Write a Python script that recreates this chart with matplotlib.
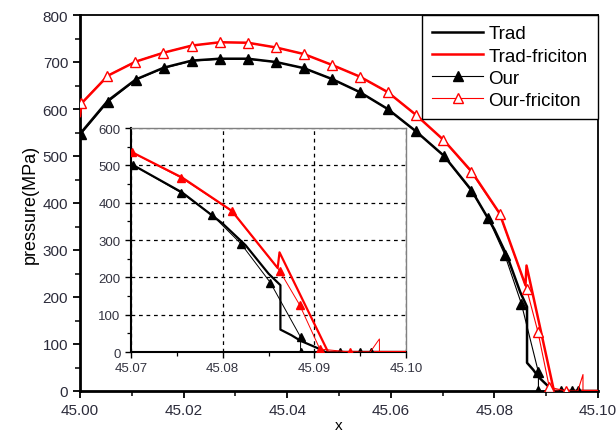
import matplotlib.pyplot as plt
from matplotlib.ticker import MultipleLocator

plt.rcParams['font.family'] = ['Liberation Sans', 'DejaVu Sans']

# Trad: thick black line
trad_x = [45.000, 45.0054, 45.0108, 45.0162, 45.0216, 45.027, 45.0324, 45.0378, 45.0432,
          45.0486, 45.054, 45.0594, 45.0648, 45.0702, 45.0756, 45.080, 45.0825, 45.085,
          45.0863, 45.0863, 45.0875, 45.0885, 45.0903, 45.0912, 45.100]
trad_y = [547, 618, 663, 688, 703, 707, 707, 700, 687,
          664, 636, 600, 553, 501, 427, 344, 286, 210,
          179, 60, 45, 30, 11, 0, 0]

# Trad-friciton: thick red line
tradf_x = [45.000, 45.0003, 45.0054, 45.0108, 45.0162, 45.0216, 45.027, 45.0324, 45.0378,
           45.0432, 45.0486, 45.054, 45.0594, 45.0648, 45.0702, 45.0756, 45.081, 45.0860,
           45.0862, 45.0915, 45.100]
tradf_y = [585, 612, 671, 701, 720, 735, 742, 741, 731,
           717, 694, 669, 636, 588, 534, 467, 378, 225,
           267, 0, 0]

# Our: thin black line, filled triangles
our_x = [45.0002, 45.0054, 45.0108, 45.0162, 45.0216, 45.027, 45.0324, 45.0378, 45.0432,
         45.0486, 45.054, 45.0594, 45.0648, 45.0702, 45.0755, 45.0788, 45.082, 45.0852,
         45.0885, 45.0885, 45.0928, 45.0950, 45.0962]
our_y = [547, 615, 662, 687, 702, 706, 706, 700, 687,
         664, 636, 600, 553, 501, 426, 368, 290, 186,
         40, 0, 0, 0, 0]

# Our-friciton: thin red line, open triangles
ourf_x = [45.0002, 45.0053, 45.0107, 45.0161, 45.0216, 45.027, 45.0324, 45.0378, 45.0432,
          45.0486, 45.054, 45.0594, 45.0648, 45.0701, 45.0755, 45.081, 45.0862, 45.0884,
          45.0906, 45.0939, 45.0961, 45.0971, 45.0971]
ourf_y = [612, 671, 701, 720, 735, 742, 741, 731, 717,
          694, 669, 636, 588, 535, 466, 377, 218, 126,
          8, 0, 0, 35, 0]
ourf_marks = list(range(20))

fig = plt.figure(figsize=(6.16, 4.35), dpi=100)
ax = fig.add_axes([80 / 616, 1 - 392 / 435, 518 / 616, 376 / 435])

ax.plot(trad_x, trad_y, color='black', lw=1.8, label='Trad', zorder=3)
ax.plot(tradf_x, tradf_y, color='red', lw=1.8, label='Trad-friciton', zorder=4)
ax.plot(our_x, our_y, color='black', lw=0.8, marker='^', ms=7, label='Our', zorder=5)
ax.plot(ourf_x, ourf_y, color='red', lw=0.8, marker='^', ms=7, mfc='white', mec='red',
        markevery=ourf_marks, label='Our-friciton', zorder=6)

ax.set_xlim(45.00, 45.10)
ax.set_ylim(0, 800)
ax.xaxis.set_major_locator(MultipleLocator(0.02))
ax.xaxis.set_minor_locator(MultipleLocator(0.01))
ax.yaxis.set_major_locator(MultipleLocator(100))
ax.yaxis.set_minor_locator(MultipleLocator(50))
ax.xaxis.set_major_formatter(plt.FormatStrFormatter('%.2f'))
ax.tick_params(which='major', direction='out', length=5, width=1.3, labelsize=11,
               labelcolor='#2b2b3a', top=False, right=False)
ax.tick_params(which='minor', direction='out', length=3.5, width=1.1, top=False, right=False)
for s in ['left', 'bottom']:
    ax.spines[s].set_linewidth(2)
for s in ['top', 'right']:
    ax.spines[s].set_linewidth(1.3)
ax.set_ylabel('pressure(MPa)', fontsize=13, labelpad=3)
ax.set_xlabel('x', fontsize=11, labelpad=1)

leg = ax.legend(loc='upper right', borderaxespad=0, fontsize=13.5, fancybox=False,
                framealpha=1, edgecolor='black', handlelength=2.7, handletextpad=0.3,
                labelspacing=0.27, borderpad=0.55)
leg.get_frame().set_linewidth(1.0)

# inset
ins = fig.add_axes([131 / 616, 1 - 353 / 435, 275 / 616, 224 / 435])
ins.set_facecolor('white')
ins.plot(trad_x, trad_y, color='black', lw=1.6, zorder=3)
ins.plot(tradf_x, tradf_y, color='red', lw=1.6, zorder=4)
ins.plot(our_x, our_y, color='black', lw=0.7, marker='^', ms=6, zorder=5)
ins.plot(ourf_x, ourf_y, color='red', lw=0.7, marker='^', ms=6, markevery=ourf_marks, zorder=6)
ins.set_xlim(45.07, 45.10)
ins.set_ylim(0, 600)
ins.xaxis.set_major_locator(MultipleLocator(0.01))
ins.xaxis.set_minor_locator(MultipleLocator(0.005))
ins.yaxis.set_major_locator(MultipleLocator(100))
ins.yaxis.set_minor_locator(MultipleLocator(50))
ins.xaxis.set_major_formatter(plt.FormatStrFormatter('%.2f'))
ins.grid(True, which='major', color='black', linestyle=(0, (3, 3)), lw=0.9)
ins.tick_params(which='major', direction='out', length=4, width=1, labelsize=9.5,
                labelcolor='#333340')
ins.tick_params(which='minor', direction='out', length=3, width=0.9)
for s in ['left', 'bottom']:
    ins.spines[s].set_linewidth(1.5)
for s in ['top', 'right']:
    ins.spines[s].set_linewidth(1.0)
    ins.spines[s].set_color('#808080')

fig.savefig('out.png', dpi=100)
